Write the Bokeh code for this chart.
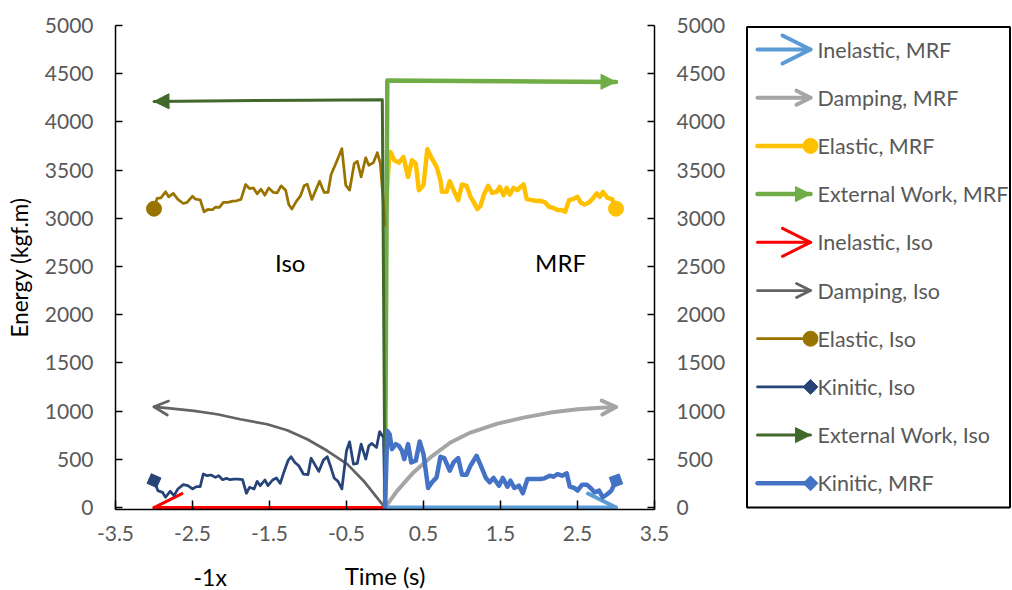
import math
import numpy as np
from bokeh.plotting import figure
from bokeh.models import Range1d, LinearAxis, Label, FixedTicker
from bokeh.layouts import row, column
from bokeh.embed import file_html
from bokeh.resources import INLINE
from bokeh.core.properties import value

FONT = "Lato"

# ---------------- MRF series (time in s) ----------------
t_inel_mrf = [0.0, 3.0]
e_inel_mrf = [0, 0]

t_damp_mrf = [0.0, 0.16, 0.37, 0.59, 0.85, 1.11, 1.46, 1.80, 2.15, 2.50, 2.80, 3.0]
e_damp_mrf = [0, 176, 365, 520, 675, 778, 871, 933, 985, 1019, 1036, 1043]

t_elas_mrf = [0.00, 0.05, 0.07, 0.12, 0.18, 0.24, 0.30, 0.35, 0.40, 0.44, 0.50, 0.55,
              0.61, 0.67, 0.72, 0.74, 0.80, 0.84, 0.89, 0.95, 1.00, 1.06, 1.11, 1.15,
              1.20, 1.24, 1.29, 1.34, 1.39, 1.45, 1.49, 1.54, 1.58, 1.62, 1.67, 1.72,
              1.76, 1.80, 1.84, 1.91, 1.97, 2.02, 2.08, 2.13, 2.18, 2.24, 2.29, 2.34,
              2.39, 2.44, 2.50, 2.54, 2.59, 2.65, 2.70, 2.75, 2.79, 2.83, 2.89, 2.95, 3.00]
e_elas_mrf = [2930, 3600, 3688, 3602, 3578, 3636, 3430, 3602, 3567, 3292, 3344, 3716,
              3619, 3533, 3395, 3275, 3275, 3385, 3292, 3189, 3351, 3337, 3223, 3171,
              3096, 3130, 3258, 3337, 3264, 3275, 3326, 3240, 3316, 3247, 3316, 3292,
              3326, 3351, 3199, 3189, 3179, 3182, 3165, 3120, 3110, 3086, 3086, 3068,
              3189, 3199, 3223, 3165, 3144, 3165, 3206, 3258, 3223, 3275, 3213, 3199, 3100]

t_ext_mrf = [0.0, 0.03, 1.0, 2.0, 3.0]
e_ext_mrf = [0, 4430, 4425, 4420, 4415]

t_kin_mrf = [0.00, 0.03, 0.06, 0.09, 0.14, 0.18, 0.22, 0.25, 0.30, 0.34, 0.40, 0.45,
             0.50, 0.56, 0.61, 0.67, 0.72, 0.77, 0.84, 0.89, 0.95, 1.00, 1.06, 1.11,
             1.19, 1.24, 1.31, 1.36, 1.41, 1.48, 1.53, 1.59, 1.63, 1.68, 1.74, 1.79,
             1.85, 1.91, 1.97, 2.02, 2.07, 2.14, 2.19, 2.24, 2.30, 2.36, 2.40, 2.46,
             2.50, 2.56, 2.62, 2.67, 2.72, 2.78, 2.83, 2.89, 2.94, 3.00]
e_kin_mrf = [0, 795, 761, 606, 658, 640, 589, 503, 658, 468, 486, 685,
             555, 203, 262, 313, 527, 513, 382, 468, 513, 341, 341, 434,
             537, 444, 307, 262, 307, 227, 307, 217, 279, 203, 227, 148,
             296, 296, 296, 296, 303, 331, 320, 348, 331, 355, 217, 203,
             176, 238, 238, 203, 158, 176, 107, 141, 176, 279]

# ---------------- Iso series (time in s, plotted at -1x) ----------------
t_inel_iso = [0.0, 3.0]
e_inel_iso = [0, 0]

t_damp_iso = [0.0, 0.28, 0.49, 0.75, 1.01, 1.27, 1.53, 1.88, 2.18, 2.48, 2.79, 3.0]
e_damp_iso = [0, 279, 451, 589, 709, 802, 864, 916, 968, 1002, 1030, 1045]

t_elas_iso = [0.00, 0.06, 0.10, 0.15, 0.21, 0.25, 0.31, 0.36, 0.40, 0.46, 0.51, 0.56,
              0.64, 0.70, 0.74, 0.79, 0.85, 0.89, 0.95, 1.01, 1.05, 1.10, 1.15, 1.21,
              1.25, 1.29, 1.35, 1.40, 1.45, 1.51, 1.56, 1.61, 1.66, 1.71, 1.76, 1.81,
              1.87, 1.93, 1.98, 2.04, 2.10, 2.15, 2.20, 2.24, 2.30, 2.35, 2.40, 2.46,
              2.50, 2.57, 2.62, 2.69, 2.75, 2.81, 2.85, 2.91, 2.96, 3.00]
e_elas_iso = [2930, 3567, 3681, 3578, 3551, 3629, 3430, 3592, 3567, 3292, 3344, 3722,
              3567, 3454, 3268, 3268, 3385, 3309, 3196, 3354, 3337, 3230, 3179, 3096,
              3144, 3292, 3337, 3264, 3268, 3316, 3240, 3302, 3254, 3316, 3309, 3351,
              3196, 3182, 3179, 3165, 3165, 3113, 3117, 3089, 3092, 3068, 3192, 3199,
              3230, 3165, 3154, 3196, 3258, 3223, 3275, 3213, 3206, 3100]

t_kin_iso = [0.00, 0.02, 0.07, 0.11, 0.17, 0.21, 0.25, 0.31, 0.36, 0.41, 0.46, 0.50,
             0.56, 0.61, 0.66, 0.70, 0.75, 0.80, 0.86, 0.92, 0.96, 1.00, 1.06, 1.12,
             1.17, 1.22, 1.26, 1.31, 1.36, 1.41, 1.46, 1.52, 1.56, 1.62, 1.66, 1.70,
             1.76, 1.80, 1.85, 1.91, 1.96, 2.01, 2.06, 2.11, 2.16, 2.20, 2.26, 2.31,
             2.36, 2.40, 2.45, 2.50, 2.56, 2.62, 2.69, 2.74, 2.79, 2.85, 2.89, 2.95, 3.00]
e_kin_iso = [0, 726, 788, 623, 665, 640, 503, 658, 458, 451, 682, 589,
             193, 272, 307, 410, 527, 492, 375, 458, 513, 341, 348, 434,
             468, 527, 486, 375, 251, 307, 286, 227, 286, 227, 272, 193,
             210, 148, 289, 296, 296, 289, 303, 289, 331, 313, 338, 331,
             348, 217, 217, 193, 227, 238, 193, 124, 169, 107, 158, 176, 279]

t_ext_iso = [0.0, 0.035, 1.0, 2.0, 3.0]
e_ext_iso = [0, 4230, 4225, 4220, 4212]

x_ticks = [-3.5, -2.5, -1.5, -0.5, 0.5, 1.5, 2.5, 3.5]
x_tick_labels = ["-3.5", "-2.5", "-1.5", "-0.5", "0.5", "1.5", "2.5", "3.5"]
y_ticks = [0, 500, 1000, 1500, 2000, 2500, 3000, 3500, 4000, 4500, 5000]

# ---------------- styling per series (drawing order = legend order) ----------------
series = [
    ("Inelastic, MRF", t_inel_mrf, e_inel_mrf, 1, "#5B9BD5", 4.0, "open_big"),
    ("Damping, MRF", t_damp_mrf, e_damp_mrf, 1, "#A5A5A5", 4.0, "open"),
    ("Elastic, MRF", t_elas_mrf, e_elas_mrf, 1, "#FFC000", 4.5, "circle"),
    ("External Work, MRF", t_ext_mrf, e_ext_mrf, 1, "#70AD47", 4.5, "triangle"),
    ("Inelastic, Iso", t_inel_iso, e_inel_iso, -1, "#FF0000", 3.0, "open_big"),
    ("Damping, Iso", t_damp_iso, e_damp_iso, -1, "#636363", 2.75, "open"),
    ("Elastic, Iso", t_elas_iso, e_elas_iso, -1, "#997300", 2.75, "circle"),
    ("Kinitic, Iso", t_kin_iso, e_kin_iso, -1, "#264478", 2.75, "diamond"),
    ("External Work, Iso", t_ext_iso, e_ext_iso, -1, "#43682B", 3.0, "triangle"),
    ("Kinitic, MRF", t_kin_mrf, e_kin_mrf, 1, "#4472C4", 4.5, "diamond"),
]

TOTAL_W, TOTAL_H = 1012, 590
STRIP_H = 39
X0, X1 = -3.5, 3.5
Y0, Y1 = -20, 5000          # a hair below zero so the zero-valued lines stay whole
MAIN_W, MAIN_H = 745, TOTAL_H - STRIP_H
B_LEFT, B_RIGHT, B_TOP, B_BOTTOM = 115, 91, 25, 42
FRAME_W = MAIN_W - B_LEFT - B_RIGHT
FRAME_H = MAIN_H - B_TOP - B_BOTTOM
KX = FRAME_W / (X1 - X0)
KY = FRAME_H / (Y1 - Y0)

HEADS = {"open_big": (28, 14), "open": (14, 7), "triangle": (15, 7.5)}


def head_shape(xs, ys, length, half, kx, ky):
    """Arrow head polyline (barb, tip, barb) aligned with the last segment."""
    xa, ya = xs[-2], ys[-2]
    xb, yb = xs[-1], ys[-1]
    dx, dy = (xb - xa) * kx, (yb - ya) * ky
    n = math.hypot(dx, dy)
    ux, uy = dx / n, dy / n
    nx, ny = -uy, ux
    bx = xb - length * ux / kx
    by = yb - length * uy / ky
    hx = [bx + half * nx / kx, xb, bx - half * nx / kx]
    hy = [by + half * ny / ky, yb, by - half * ny / ky]
    return hx, hy, math.atan2(dy, dx)


def draw_end(fig, xs, ys, color, width, end, kx, ky):
    if end in ("open_big", "open", "triangle"):
        L, H = HEADS[end]
        hx, hy, _ = head_shape(xs, ys, L, H, kx, ky)
        if end == "triangle":
            fig.patch(hx, hy, fill_color=color, line_color=color, line_width=1)
        else:
            fig.line(hx, hy, line_color=color, line_width=width,
                     line_cap="round", line_join="round")
    elif end == "circle":
        fig.scatter([xs[-1]], [ys[-1]], marker="circle", size=15,
                    fill_color=color, line_color=color)
    elif end == "diamond":
        _, _, ang = head_shape(xs, ys, 1, 1, kx, ky)
        fig.scatter([xs[-1]], [ys[-1]], marker="square", size=10.5,
                    angle=ang + math.pi / 4, fill_color=color, line_color=color)


# ---------------- main chart ----------------
x_range = Range1d(X0, X1)
p = figure(width=MAIN_W, height=MAIN_H, x_range=x_range, y_range=Range1d(Y0, Y1),
           output_backend="svg", toolbar_location=None,
           min_border_left=B_LEFT, min_border_right=B_RIGHT,
           min_border_top=B_TOP, min_border_bottom=B_BOTTOM)
p.grid.visible = False
p.outline_line_color = None
p.background_fill_color = "white"
p.border_fill_color = "white"

p.add_layout(LinearAxis(), "right")

for ax in p.xaxis:
    ax.ticker = FixedTicker(ticks=x_ticks)
    ax.major_label_overrides = dict(zip(x_ticks, x_tick_labels))
    ax.major_tick_in = 9
    ax.major_tick_out = 0
    ax.major_label_standoff = 16
for ax in p.yaxis:
    ax.ticker = FixedTicker(ticks=y_ticks)
    ax.major_tick_in = 7
    ax.major_tick_out = 0
    ax.major_label_standoff = 22
p.yaxis[0].axis_label = "Energy (kgf.m)"
p.yaxis[0].axis_label_standoff = 9

for ax in p.axis:
    ax.minor_tick_line_color = None
    ax.axis_line_color = "black"
    ax.axis_line_width = 1.5
    ax.major_tick_line_color = "black"
    ax.major_tick_line_width = 1.5
    ax.major_label_text_font = FONT
    ax.major_label_text_font_size = "21px"
    ax.major_label_text_color = "#595959"
    ax.axis_label_text_font = FONT
    ax.axis_label_text_font_size = "22.5px"
    ax.axis_label_text_font_style = "normal"
    ax.axis_label_text_color = "black"

for label, t, e, sign, color, width, end in series:
    xs = [sign * v for v in t]
    ys = list(e)
    p.line(xs, ys, line_color=color, line_width=width, line_join="round", line_cap="round")
    draw_end(p, xs, ys, color, width, end, KX, KY)

for txt, xpos in (("Iso", -1.23), ("MRF", 2.28)):
    p.add_layout(Label(x=xpos, y=2540, text=txt, text_font=FONT,
                       text_font_size="24px", text_color="black",
                       text_align="center", text_baseline="middle"))

# ---------------- legend panel (coordinates in page pixels) ----------------
LEG_W = TOTAL_W - MAIN_W
lg = figure(width=LEG_W, height=MAIN_H, x_range=Range1d(0, LEG_W),
            y_range=Range1d(MAIN_H - B_BOTTOM, B_TOP),
            output_backend="svg", toolbar_location=None,
            x_axis_location=None, y_axis_location=None,
            min_border_left=0, min_border_right=0,
            min_border_top=B_TOP, min_border_bottom=B_BOTTOM)
lg.grid.visible = False
lg.outline_line_color = None
lg.border_fill_color = "white"

lg.quad(left=1.5, right=LEG_W - 2.5, top=26.5, bottom=507,
        fill_color=None, line_color="black", line_width=2)

LEG_Y0, LEG_STEP = 49, 48.2
LX0, LX1, LTX = 12, 65, 72
for i, (label, t, e, sign, color, width, end) in enumerate(series):
    yy = LEG_Y0 + i * LEG_STEP
    xs, ys = [LX0, LX1], [yy, yy]
    lg.line(xs, ys, line_color=color, line_width=width, line_cap="round")
    draw_end(lg, xs, ys, color, width, end, 1.0, 1.0)
    lg.text(x=[LTX], y=[yy], text=[label], text_font=value(FONT), text_font_size="21.5px",
            text_color="#595959", text_baseline="middle", text_align="left")

# ---------------- strip under the chart: axis title and mirror note ----------------
strip = figure(width=TOTAL_W, height=STRIP_H, x_range=x_range, y_range=Range1d(STRIP_H, 0),
               output_backend="svg", toolbar_location=None,
               x_axis_location=None, y_axis_location=None,
               min_border_left=B_LEFT, min_border_right=TOTAL_W - B_LEFT - FRAME_W,
               min_border_top=0, min_border_bottom=0)
strip.grid.visible = False
strip.outline_line_color = None
strip.border_fill_color = "white"

strip.text(x=[0.0], y=[24], text=["Time (s)"], text_font=value(FONT), text_font_size="24px",
           text_color="black", text_align="center", text_baseline="middle")
strip.text(x=[-2.27], y=[25], text=["-1x"], text_font=value(FONT), text_font_size="23px",
           text_color="black", text_align="center", text_baseline="middle")

layout = column(row(p, lg), strip)
open("out.html", "w").write(file_html(layout, INLINE))
